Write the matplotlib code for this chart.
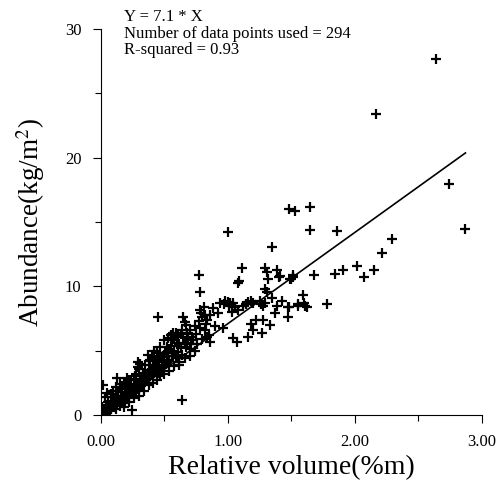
# Abundance vs relative volume scatter with fitted line through origin
import matplotlib
matplotlib.use("Agg")
import matplotlib.pyplot as plt
from matplotlib.ticker import MultipleLocator, FormatStrFormatter

plt.rcParams["font.family"] = ["Liberation Serif", "DejaVu Serif"]
plt.rcParams["mathtext.fontset"] = "stix"

# Fit parameters shown on the chart
slope = 7.1
n_points = 294
r_squared = 0.93

# Points near the origin (x 0 - 0.1)
x_a = [0.00, 0.01, 0.01, 0.02, 0.02, 0.02, 0.03, 0.03, 0.03, 0.04, 0.04, 0.04,
       0.05, 0.05, 0.05, 0.06, 0.06, 0.06, 0.07, 0.07, 0.07, 0.08, 0.08, 0.08,
       0.09, 0.09, 0.09, 0.10, 0.10, 0.10, 0.02, 0.05, 0.03, 0.06, 0.00, 0.01,
       0.04, 0.07, 0.01, 0.03]
y_a = [0.0, 0.1, 0.2, 0.1, 0.2, 0.3, 0.2, 0.3, 0.4, 0.2, 0.4, 0.5,
       0.3, 0.4, 0.6, 0.4, 0.5, 0.7, 0.5, 0.6, 0.8, 0.5, 0.7, 0.9,
       0.6, 0.7, 1.0, 0.6, 0.8, 1.1, 2.3, 1.7, 1.4, 1.0, 0.4, 0.6,
       0.8, 0.3, 0.0, 0.1]

# x 0.1 - 0.3
x_b = [0.11, 0.11, 0.12, 0.12, 0.13, 0.13, 0.14, 0.14, 0.15, 0.15, 0.16, 0.16,
       0.17, 0.17, 0.18, 0.18, 0.19, 0.19, 0.20, 0.20, 0.21, 0.21, 0.22, 0.22,
       0.23, 0.23, 0.24, 0.24, 0.25, 0.25, 0.26, 0.26, 0.27, 0.27, 0.28, 0.28,
       0.29, 0.29, 0.30, 0.30, 0.13, 0.14, 0.18, 0.21, 0.22, 0.25, 0.27, 0.18,
       0.25, 0.12, 0.16, 0.20, 0.24, 0.28]
y_b = [0.8, 1.0, 0.9, 1.1, 0.9, 1.2, 1.0, 1.3, 1.0, 1.2, 1.1, 1.4,
       1.2, 1.5, 1.2, 1.4, 1.3, 1.6, 1.4, 1.7, 1.4, 1.6, 1.5, 1.8,
       1.6, 1.9, 1.6, 1.8, 1.7, 2.0, 1.8, 2.1, 1.9, 2.2, 1.9, 2.3,
       2.0, 2.4, 2.1, 2.5, 2.9, 1.9, 2.5, 2.2, 2.7, 1.9, 3.0, 0.6,
       0.4, 1.5, 1.8, 2.0, 2.3, 2.7]

# x 0.3 - 0.55
x_c = [0.31, 0.31, 0.32, 0.32, 0.33, 0.33, 0.34, 0.34, 0.35, 0.35, 0.36, 0.36,
       0.37, 0.37, 0.38, 0.38, 0.39, 0.39, 0.40, 0.40, 0.41, 0.41, 0.42, 0.42,
       0.43, 0.43, 0.44, 0.44, 0.45, 0.45, 0.46, 0.46, 0.47, 0.47, 0.48, 0.48,
       0.49, 0.49, 0.50, 0.50, 0.51, 0.51, 0.52, 0.52, 0.53, 0.53, 0.54, 0.54,
       0.29, 0.29, 0.31, 0.37, 0.39, 0.43, 0.45, 0.48, 0.52, 0.55, 0.46]
y_c = [2.2, 2.6, 2.3, 2.5, 2.4, 2.8, 2.5, 3.0, 2.6, 2.9, 2.7, 3.1,
       2.8, 3.3, 2.9, 3.4, 3.0, 3.5, 3.1, 3.4, 3.2, 3.7, 3.3, 3.8,
       3.4, 3.9, 3.4, 4.1, 3.5, 4.2, 3.6, 4.3, 3.6, 4.4, 3.7, 4.5,
       3.8, 4.6, 3.9, 4.7, 4.0, 4.8, 4.1, 4.6, 4.2, 5.0, 4.3, 5.1,
       4.1, 3.7, 4.0, 4.7, 4.3, 3.9, 4.4, 4.5, 5.3, 5.4, 3.3]

# x 0.55 - 0.86
x_d = [0.55, 0.56, 0.56, 0.57, 0.57, 0.58, 0.58, 0.59, 0.59, 0.60, 0.60, 0.61,
       0.61, 0.62, 0.62, 0.63, 0.63, 0.64, 0.64, 0.65, 0.65, 0.66, 0.66, 0.67,
       0.67, 0.68, 0.68, 0.69, 0.70, 0.70, 0.71, 0.72, 0.73, 0.74, 0.75, 0.76,
       0.77, 0.78, 0.78, 0.79, 0.80, 0.80, 0.81, 0.82, 0.82, 0.83, 0.84, 0.84,
       0.85, 0.86]
y_d = [6.2, 5.8, 4.6, 6.4, 4.8, 5.0, 6.0, 6.4, 4.4, 4.5, 5.6, 4.9,
       6.2, 3.9, 5.5, 5.2, 6.3, 6.6, 4.7, 7.6, 6.1, 7.2, 5.5, 7.0,
       5.3, 5.6, 6.4, 5.9, 5.1, 6.6, 5.5, 6.1, 5.8, 6.9, 6.3, 5.5,
       7.3, 6.8, 8.2, 7.9, 7.6, 5.9, 8.4, 7.8, 6.6, 7.1, 6.1, 7.4,
       6.2, 5.7]

# Extra spread around the band for x < 0.75
x_g = [0.08, 0.10, 0.12, 0.15, 0.17, 0.19, 0.21, 0.23, 0.26, 0.28, 0.30, 0.33,
       0.35, 0.38, 0.40, 0.42, 0.44, 0.47, 0.50, 0.53, 0.12, 0.15, 0.19, 0.22,
       0.26, 0.30, 0.34, 0.38, 0.41, 0.44, 0.47, 0.50, 0.54, 0.58, 0.62, 0.66,
       0.70, 0.74]
y_g = [1.6, 1.9, 2.2, 2.4, 2.0, 2.6, 2.9, 2.4, 2.8, 3.2, 3.6, 3.3,
       3.9, 4.2, 4.6, 5.0, 4.8, 5.3, 5.8, 6.0, 0.5, 0.7, 0.9, 1.0,
       1.3, 1.5, 1.9, 2.3, 2.5, 2.7, 3.0, 3.2, 3.4, 3.8, 4.1, 4.4,
       4.6, 5.0]

# x 0.86 - 1.8
x_e = [0.86, 0.88, 0.90, 0.92, 0.94, 0.96, 0.97, 0.98, 1.00, 1.01, 1.02, 1.03,
       1.03, 1.04, 1.04, 1.06, 1.07, 1.08, 1.08, 1.09, 1.11, 1.12, 1.14, 1.16,
       1.16, 1.18, 1.18, 1.19, 1.20, 1.20, 1.22, 1.25, 1.26, 1.27, 1.28, 1.28,
       1.29, 1.29, 1.29, 1.31, 1.31, 1.32, 1.33, 1.35, 1.35, 1.37, 1.39, 1.39,
       1.40, 1.41, 1.43, 1.47, 1.47, 1.48, 1.49, 1.50, 1.51, 1.51, 1.55, 1.55,
       1.59, 1.60, 1.61, 1.62, 1.68, 1.78, 1.00]
y_e = [7.8, 8.3, 6.9, 7.9, 8.7, 6.8, 8.6, 8.9, 8.8, 8.5, 8.7, 8.5,
       8.0, 6.0, 8.7, 8.4, 5.7, 8.2, 10.3, 10.4, 11.4, 8.5, 8.6, 6.1,
       8.8, 8.9, 7.1, 8.7, 6.6, 8.7, 7.4, 8.9, 8.6, 6.4, 7.4, 8.5,
       8.7, 11.4, 9.8, 11.1, 9.6, 10.6, 7.0, 9.1, 13.1, 7.9, 11.3, 8.5,
       10.7, 10.8, 8.9, 7.6, 8.4, 8.4, 10.6, 10.6, 10.7, 10.9, 8.6, 8.5,
       9.3, 8.7, 8.5, 8.4, 10.9, 8.6, 14.2]

# Scattered points away from the band
x_f = [0.45, 0.64, 0.77, 0.78, 1.48, 1.53, 1.65, 1.65, 1.84, 1.86, 1.91, 2.02,
       2.07, 2.15, 2.17, 2.21, 2.29, 2.64, 2.74, 2.87]
y_f = [7.6, 1.2, 10.9, 9.6, 16.0, 15.85, 16.2, 14.4, 11.0, 14.3, 11.3, 11.6,
       10.7, 11.3, 23.4, 12.6, 13.7, 27.7, 18.0, 14.45]

x_all = x_a + x_b + x_c + x_d + x_g + x_e + x_f
y_all = y_a + y_b + y_c + y_d + y_g + y_e + y_f

fig = plt.figure(figsize=(5.01, 4.86), dpi=100)
ax = fig.add_axes([0.201, 0.146, 0.761, 0.794])

ax.scatter(x_all, y_all, marker="+", s=45, color="black", linewidths=1.6)

line_x = [0, max(x_all)]
line_y = [slope * v for v in line_x]
ax.plot(line_x, line_y, color="black", linewidth=1.2)

ax.set_xlim(0, 3)
ax.set_ylim(0, 30)
ax.xaxis.set_major_locator(MultipleLocator(1))
ax.xaxis.set_minor_locator(MultipleLocator(0.5))
ax.xaxis.set_major_formatter(FormatStrFormatter("%.2f"))
ax.yaxis.set_major_locator(MultipleLocator(10))
ax.yaxis.set_minor_locator(MultipleLocator(5))

for side in ["top", "right"]:
    ax.spines[side].set_visible(False)
ax.spines["left"].set_linewidth(0.8)
ax.spines["bottom"].set_linewidth(0.8)
ax.tick_params(which="both", direction="out", width=0.8, labelsize=12)
ax.tick_params(which="major", length=6, pad=8)
ax.tick_params(which="minor", length=4)

ax.set_xlabel("Relative volume(%m)", fontsize=20, labelpad=3)
ax.set_ylabel("Abundance(kg/m$^2$)", fontsize=19.5, labelpad=13)

note = "Y = {} * X\nNumber of data points used = {}\nR-squared = {}".format(
    slope, n_points, r_squared)
ax.text(0.06, 1.052, note, transform=ax.transAxes, fontsize=12,
        va="top", ha="left", linespacing=1.05)

fig.savefig("out.png", dpi=100)
